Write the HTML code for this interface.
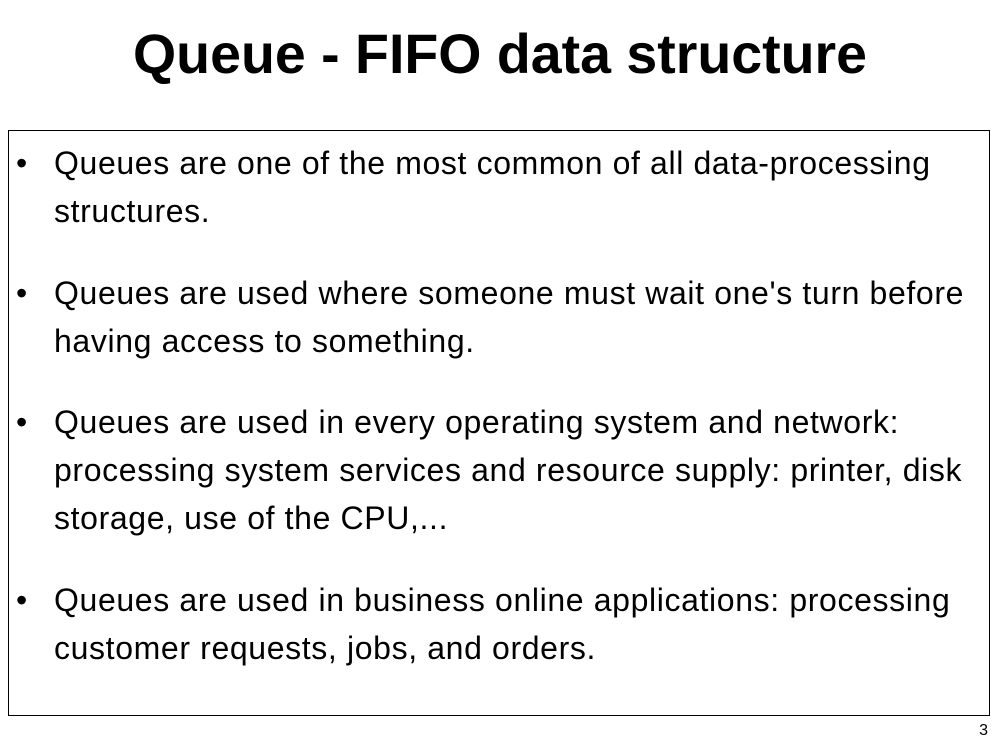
<!DOCTYPE html>
<html><head><style>
html,body{margin:0;padding:0;background:#fff;}
body{width:1000px;height:750px;position:relative;overflow:hidden;font-family:"Liberation Sans",Arial,sans-serif;color:#000;}
h1{position:absolute;top:21px;left:0;width:1000px;text-align:center;margin:0;font-size:55.5px;font-weight:bold;line-height:66px;}
.box{position:absolute;left:8px;top:130px;width:982px;height:586px;border:1px solid #000;box-sizing:border-box;}
.b{position:absolute;left:54px;font-size:32px;letter-spacing:0.63px;line-height:48px;width:940px;white-space:nowrap;}
.b:before{content:"•";position:absolute;left:-38px;}
.pn{position:absolute;right:12px;top:722px;font-size:16px;}
</style></head><body>
<h1>Queue - FIFO data structure</h1>
<div class="box"></div>
<div class="b" style="top:139px">Queues are one of the most common of all data-processing<br>structures.</div>
<div class="b" style="top:269px">Queues are used where someone must wait one's turn before<br>having access to something.</div>
<div class="b" style="top:398px">Queues are used in every operating system and network:<br>processing system services and resource supply: printer, disk<br>storage, use of the CPU,...</div>
<div class="b" style="top:576px">Queues are used in business online applications: processing<br>customer requests, jobs, and orders.</div>
<div class="pn">3</div>
</body></html>
